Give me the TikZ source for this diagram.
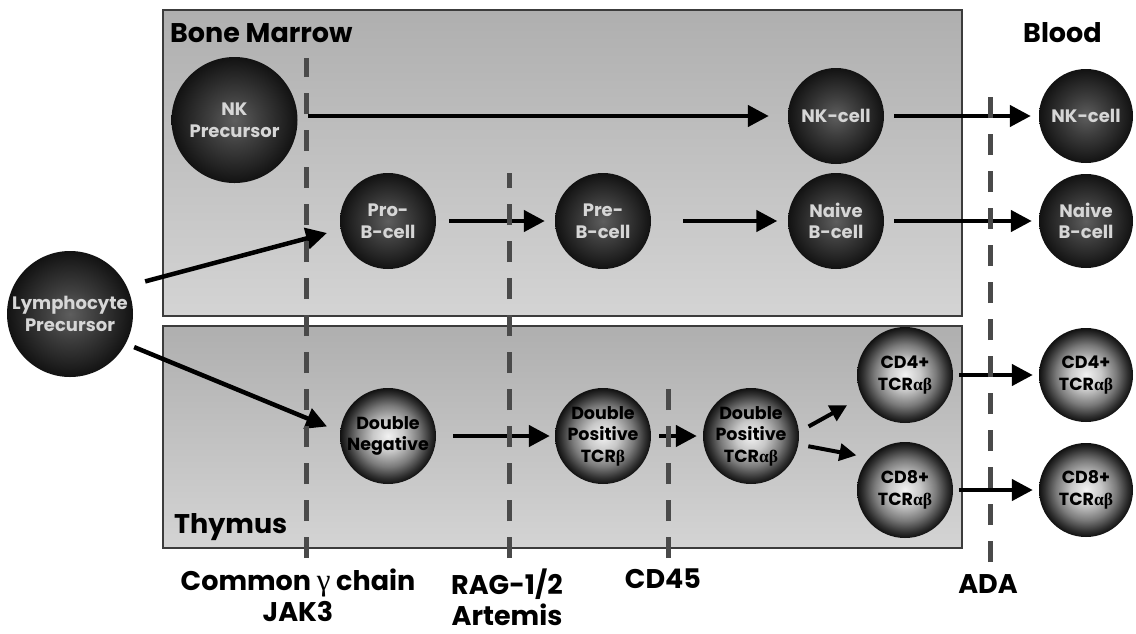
\documentclass[tikz,border=0pt]{standalone}
\usepackage{fontspec}
\setmainfont{Poppins}
\newfontfamily\grk{Liberation Serif}
\usetikzlibrary{arrows.meta}
\definecolor{boxtop}{HTML}{AFAFAF}
\definecolor{boxbot}{HTML}{D4D4D4}
\definecolor{boxline}{HTML}{3C3C3C}
\definecolor{dashgray}{HTML}{4A4A4A}
\definecolor{dk0}{HTML}{5E5E5E}
\definecolor{dk1}{HTML}{3E3E3E}
\definecolor{dk2}{HTML}{242424}
\definecolor{dk3}{HTML}{121212}
\definecolor{lt0}{HTML}{F2F2F2}
\definecolor{lt1}{HTML}{C8C8C8}
\definecolor{lt2}{HTML}{7A7A7A}
\definecolor{lt3}{HTML}{303030}
\definecolor{lt4}{HTML}{101010}
\definecolor{dktext}{HTML}{D6D6D6}
\pgfdeclareradialshading{darkball}{\pgfpoint{0bp}{0bp}}{color(0bp)=(dk0); color(10bp)=(dk1); color(19bp)=(dk2); color(25bp)=(dk3); color(50bp)=(dk3)}
\pgfdeclareradialshading{lightball}{\pgfpoint{0bp}{0bp}}{color(0bp)=(lt0); color(8bp)=(lt1); color(16bp)=(lt2); color(22bp)=(lt3); color(25bp)=(lt4); color(50bp)=(lt4)}
\tikzset{
  region/.style={draw=boxline, line width=1.2pt, top color=boxtop, bottom color=boxbot},
  regionlabel/.style={font=\bfseries\fontsize{27}{30}\selectfont, text=black, inner sep=0pt},
  genelabel/.style={font=\bfseries\fontsize{27}{31}\selectfont, align=center, inner sep=0pt, anchor=north},
  darkcell/.style={circle, inner sep=0pt, minimum size=96pt, shading=darkball, text=dktext, align=center, font=\bfseries\fontsize{18}{21.5}\selectfont},
  lightcell/.style={circle, inner sep=0pt, minimum size=96pt, shading=lightball, text=black, align=center, font=\bfseries\fontsize{17.5}{21.5}\selectfont},
  arr/.style={line width=4.5pt, -{Triangle[length=21pt,width=21pt]}},
  smallarr/.style={line width=4pt, -{Triangle[length=17pt,width=17pt]}},
  barrier/.style={draw=dashgray, line width=5pt, dash pattern=on 21pt off 16pt},
}
\begin{document}
\begin{tikzpicture}[x=1pt,y=-1pt]
\useasboundingbox (0,0) rectangle (1136,633);
\fill[white] (0,0) rectangle (1136,633);
% regions
\path[region] (163,10) rectangle (962,316);
\path[region] (163,326) rectangle (962,548);
\node[regionlabel, anchor=base west] (bm) at (170,42) {Bone Marrow};
\node[regionlabel, anchor=base west] (blood) at (1023,42) {Blood};
\node[regionlabel, anchor=base west] (thy) at (174,533) {Thymus};
% cells
\node[darkcell, minimum size=126pt] (nkp) at (234.5,120) {NK\\Precursor};
\node[darkcell, minimum size=126pt] (lym) at (70,314) {Lymphocyte\\Precursor};
\node[darkcell] (pro) at (388,221) {Pro-\\B-cell};
\node[darkcell] (pre) at (603,221) {Pre-\\B-cell};
\node[darkcell] (nk) at (836,116) {NK-cell};
\node[darkcell] (nai) at (836,221) {Naive\\B-cell};
\node[darkcell, minimum size=94pt] (bnk) at (1086,116) {NK-cell};
\node[darkcell, minimum size=94pt] (bnai) at (1086,221) {Naive\\B-cell};
\node[lightcell] (dn) at (388,436) {Double\\Negative};
\node[lightcell] (dpb) at (603,436) {Double\\Positive\\TCR{\grk β}};
\node[lightcell] (dpab) at (751,436) {Double\\Positive\\TCR{\grk αβ}};
\node[lightcell] (cd4) at (905,375) {CD4+\\TCR{\grk αβ}};
\node[lightcell] (cd8) at (905,490) {CD8+\\TCR{\grk αβ}};
\node[lightcell, minimum size=94pt] (bcd4) at (1086,375) {CD4+\\TCR{\grk αβ}};
\node[lightcell, minimum size=94pt] (bcd8) at (1086,490) {CD8+\\TCR{\grk αβ}};
% arrows
\draw[arr, shorten <=10.5pt, shorten >=19pt] (nkp.east |- nk.west) -- (nk.west);
\draw[arr, shorten <=13pt, shorten >=10pt] (pro.east) -- (pre.west);
\draw[arr, shorten <=32pt, shorten >=10.5pt] (pre.east) -- (nai.west);
\draw[arr, shorten <=10pt, shorten >=8pt] (nk.east) -- (bnk.west);
\draw[arr, shorten <=10pt, shorten >=7pt] (nai.east) -- (bnai.west);
\draw[arr, shorten <=19pt, shorten >=14pt] (lym.26) -- (pro.190);
\draw[arr, shorten <=9pt, shorten >=14pt] (lym.-28) -- (dn.175);
\draw[arr, shorten <=17pt, shorten >=5pt] (dn.east) -- (dpb.west);
\draw[arr, shorten <=8pt, shorten >=6pt] (dpb.east) -- (dpab.west);
\draw[smallarr, shorten <=11pt, shorten >=17pt] (dpab.5) -- (cd4.207);
\draw[smallarr, shorten <=10pt, shorten >=13pt] (dpab.-10) -- (cd8.138);
\draw[arr, shorten <=6pt, shorten >=6pt] (cd4.east) -- (bcd4.west);
\draw[arr, shorten <=6pt, shorten >=6pt] (cd8.east) -- (bcd8.west);
% barriers
\coordinate (g1t) at (306,58);  \coordinate (g1b) at (306,558);
\coordinate (g2t) at (509,173); \coordinate (g2b) at (509,558);
\coordinate (g3t) at (668,388); \coordinate (g3b) at (668,558);
\coordinate (g4t) at (990,92);  \coordinate (g4b) at (990,562);
\draw[barrier] (g1b) -- (g1t);
\draw[barrier] (g2b) -- (g2t);
\draw[barrier] (g3b) -- (g3t);
\draw[barrier] (g4b) -- (g4t);
% gene labels
\node[genelabel] (l1) at (298,569) {Common {\grk\mdseries\fontsize{31}{31}\selectfont γ} chain\\JAK3};
\node[genelabel] (l2) at (507,569) {RAG-1/2\\Artemis};
\node[genelabel] (l3) at (663,569) {CD45};
\node[genelabel] (l4) at (988,574) {ADA};
\end{tikzpicture}
\end{document}
